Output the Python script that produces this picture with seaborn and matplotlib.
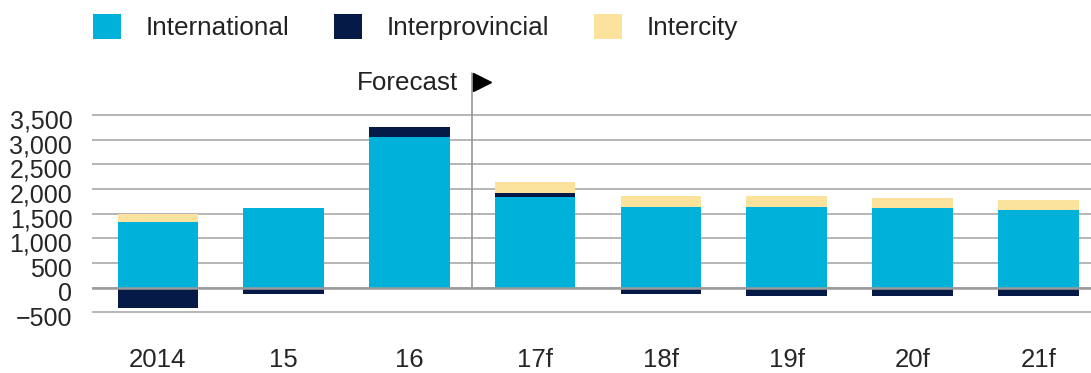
import numpy as np
import pandas as pd
import matplotlib
matplotlib.use("Agg")
import matplotlib.pyplot as plt
import matplotlib.transforms as mtransforms
from matplotlib.patches import Patch
import seaborn as sns

# Passenger flows by category (thousands), actuals and forecasts
years = ["2014", "15", "16", "17f", "18f", "19f", "20f", "21f"]
international = [1330, 1610, 3050, 1830, 1640, 1640, 1610, 1575]
interprovincial = [-420, -130, 215, 95, -135, -175, -175, -175]
intercity = [160, 0, 0, 210, 215, 215, 215, 200]

series_names = ["International", "Interprovincial", "Intercity"]
colors = ["#00b2da", "#061a48", "#fce39d"]
y_ticks = list(range(-500, 4000, 500))

sns.set_style("white")
plt.rcParams["font.family"] = ["Liberation Sans", "DejaVu Sans"]
plt.rcParams["text.color"] = "#222222"

fig = plt.figure(figsize=(10.91, 3.73), dpi=100)
ax = fig.add_axes([0.0841, 0.1493, 0.916, 0.655])

intl = np.array(international, dtype=float)
inter = np.array(interprovincial, dtype=float)
city = np.array(intercity, dtype=float)

# Stacking: positive segments build up from zero, negatives hang below it
inter_bottom = np.where(inter >= 0, intl, 0.0)
city_bottom = intl + np.clip(inter, 0, None)

df = pd.DataFrame({"year": years, "intl": intl, "inter": inter, "city": city})
bar_kw = dict(x="year", order=years, width=0.64, saturation=1, errorbar=None,
              linewidth=0, ax=ax, zorder=2)
sns.barplot(data=df, y="intl", color=colors[0], **bar_kw)
sns.barplot(data=df, y="inter", color=colors[1], bottom=inter_bottom, **bar_kw)
sns.barplot(data=df, y="city", color=colors[2], bottom=city_bottom, **bar_kw)

ax.set_xlim(-0.525, 7.42)
ax.set_ylim(-600, 4351)
ax.set_yticks(y_ticks)
ax.set_yticklabels([f"{v:,}".replace("-", "\u2212") for v in y_ticks])
ax.yaxis.grid(True, color="#a9a9a9", linewidth=1.2, zorder=0)
ax.xaxis.grid(False)
ax.set_axisbelow(True)
ax.axhline(0, color="#9a9a9a", linewidth=1.8, zorder=3)
for s in ax.spines.values():
    s.set_visible(False)
ax.set_xlabel("")
ax.set_ylabel("")
ax.tick_params(axis="y", length=0, pad=14, labelsize=18)
ax.tick_params(axis="x", length=0, pad=22, labelsize=18.5)
for lab in ax.get_yticklabels():
    lab.set_transform(lab.get_transform() +
                      mtransforms.ScaledTranslation(0, -4 / 100, fig.dpi_scale_trans))

# Forecast divider between actuals and projections
split = 2.5
ax.plot([split, split], [0, 4351], color="#8f8f8f", linewidth=1.1,
        clip_on=False, zorder=1)
tri_tr = mtransforms.offset_copy(ax.transData, fig=fig, x=9.6 / 100, y=0,
                                 units="inches")
ax.plot([split], [4160], marker=">", markersize=13.2, color="black",
        transform=tri_tr, clip_on=False, linestyle="none")
txt_tr = mtransforms.offset_copy(ax.transData, fig=fig, x=-14.6 / 100, y=0,
                                 units="inches")
ax.text(split, 4007, "Forecast", ha="right", va="baseline", fontsize=18.7,
        transform=txt_tr, clip_on=False)

handles = [Patch(facecolor=c, edgecolor="none", label=n)
           for c, n in zip(colors, series_names)]
fig.legend(handles=handles, loc="center left", bbox_to_anchor=(93.3 / 1091, 0.927),
           ncol=3, frameon=False, fontsize=18.8, handlelength=1.07,
           handleheight=1.07, handletextpad=0.95, columnspacing=1.70,
           borderpad=0, borderaxespad=0)

fig.savefig("out.png", dpi=100, facecolor="white")
